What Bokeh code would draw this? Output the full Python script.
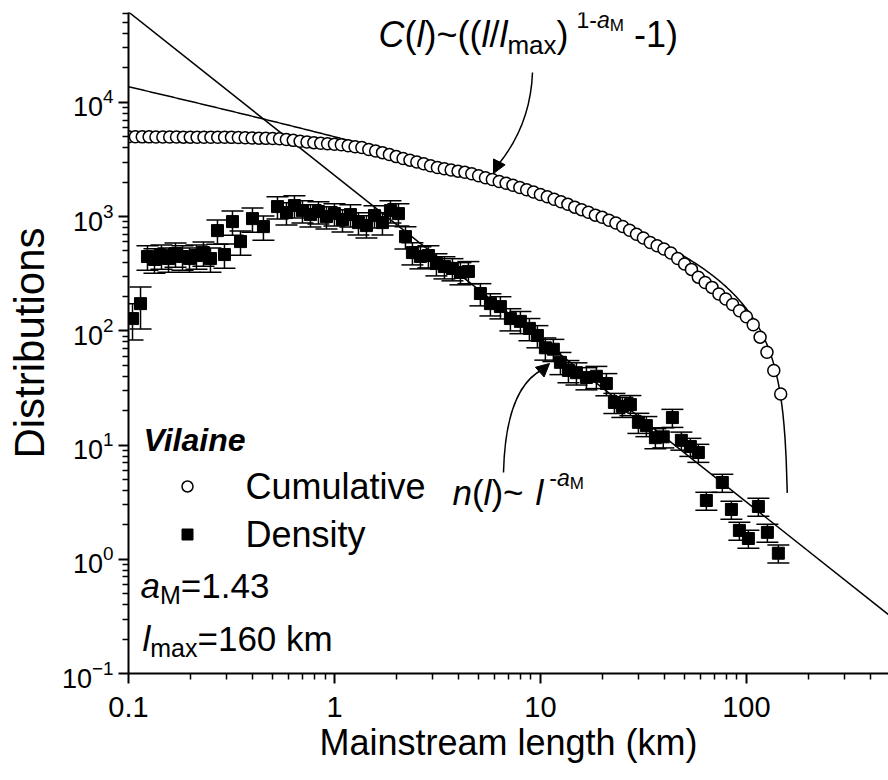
import math
import numpy as np
from bokeh.plotting import figure
from bokeh.models import (ColumnDataSource, Range1d, FixedTicker, LogTickFormatter,
                          NumeralTickFormatter, Whisker, TeeHead, Label, Arrow, NormalHead)
from bokeh.embed import file_html
from bokeh.resources import INLINE

FONT = "Liberation Sans"

# ---------------- data ----------------
a_M = 1.43          # exponent of the density fit
l_max = 160.0       # km
n_amp = 2300.0      # amplitude of n(l) ~ l^-a_M fit
c_amp = 756.0       # amplitude of C(l) fit
c_exp = 0.40        # exponent of the drawn C(l) curve
c_end = 158.0       # last length drawn for the C(l) curve

cum_len = [0.1, 0.108, 0.1166, 0.1259, 0.1359, 0.1468, 0.1585, 0.1711, 0.1848, 0.1995,
           0.2154, 0.2326, 0.2512, 0.2712, 0.2929, 0.3162, 0.3415, 0.3687, 0.3981, 0.4299,
           0.4642, 0.5012, 0.5412, 0.5843, 0.631, 0.6813, 0.7356, 0.7943, 0.8577, 0.9261,
           1.0, 1.08, 1.166, 1.259, 1.359, 1.468, 1.585, 1.711, 1.848, 1.995,
           2.154, 2.326, 2.512, 2.712, 2.929, 3.162, 3.415, 3.687, 3.981, 4.299,
           4.642, 5.012, 5.412, 5.843, 6.31, 6.813, 7.356, 7.943, 8.577, 9.261,
           10.0, 10.8, 11.66, 12.59, 13.59, 14.68, 15.85, 17.11, 18.48, 19.95,
           21.54, 23.26, 25.12, 27.12, 29.29, 31.62, 34.15, 36.87, 39.81, 42.99,
           46.42, 50.12, 54.12, 58.43, 63.1, 68.13, 73.56, 79.43, 85.77, 92.61,
           100.0, 108.0, 116.6, 125.9, 135.9, 146.8]
cum_val = [5000, 5000, 4990, 4990, 4980, 4980, 4970, 4970, 4960, 4960,
           4950, 4950, 4950, 4950, 4950, 4940, 4920, 4900, 4880, 4860,
           4840, 4830, 4810, 4730, 4650, 4560, 4500, 4440, 4380, 4340,
           4300, 4250, 4170, 4090, 4020, 3870, 3750, 3630, 3490, 3350,
           3220, 3120, 3010, 2900, 2790, 2690, 2620, 2560, 2500, 2440,
           2370, 2280, 2190, 2110, 2030, 1960, 1880, 1800, 1720, 1640,
           1560, 1490, 1420, 1350, 1280, 1210, 1150, 1090, 1030, 985,
           930, 880, 820, 760, 700, 650, 593, 555, 520, 480,
           430, 385, 345, 295, 265, 240, 210, 190, 170, 150,
           133, 113, 88, 65, 45, 28]

dens_len = [0.1046, 0.1144, 0.1236, 0.1337, 0.1446, 0.1564, 0.1691, 0.1829, 0.1978, 0.2138,
            0.2312, 0.25, 0.2704, 0.2924, 0.3198, 0.3498, 0.3999, 0.452, 0.5289, 0.5848,
            0.6394, 0.6993, 0.7647, 0.8362, 0.9145, 1.0, 1.094, 1.196, 1.308, 1.43,
            1.564, 1.71, 1.87, 2.045, 2.212, 2.391, 2.615, 2.859, 3.127, 3.42,
            3.74, 4.09, 4.472, 5.113, 5.718, 6.394, 7.15, 7.997, 8.843, 9.67,
            10.57, 11.56, 12.51, 13.68, 14.96, 16.73, 18.7, 20.91, 22.87, 25.0,
            27.35, 29.91, 32.7, 36.17, 39.5, 43.74, 48.36, 53.48, 58.48, 63.94,
            76.44, 84.6, 92.5, 102.3, 114.4, 126.5, 143.0]
dens_val = [128, 173, 447, 421, 456, 429, 474, 447, 429, 456,
            484, 429, 754, 465, 904, 604, 960, 817, 1223, 1084,
            1248, 1128, 1041, 1106, 1000, 1062, 941, 1041, 886, 834,
            1020, 886, 1128, 1062, 668, 484, 447, 456, 388, 365,
            351, 324, 331, 212, 173, 163, 128, 121, 105, 91,
            71, 69, 53, 45, 43, 39, 40, 34.6, 23.6, 21.8,
            22.6, 15.8, 14.8, 11.6, 11.8, 17.4, 11.0, 9.7, 8.6, 3.27,
            4.7, 2.73, 1.79, 1.52, 2.9, 1.72, 1.13]
dens_err = [0.35, 0.40, 0.24, 0.24, 0.24, 0.24, 0.24, 0.24, 0.24, 0.24,
            0.24, 0.24, 0.24, 0.24, 0.24, 0.24, 0.24, 0.24, 0.22, 0.22,
            0.22, 0.22, 0.22, 0.22, 0.22, 0.22, 0.22, 0.22, 0.22, 0.22,
            0.22, 0.22, 0.22, 0.22, 0.22, 0.22, 0.22, 0.22, 0.22, 0.22,
            0.22, 0.22, 0.22, 0.22, 0.22, 0.22, 0.22, 0.22, 0.22, 0.22,
            0.22, 0.22, 0.22, 0.22, 0.22, 0.22, 0.22, 0.22, 0.20, 0.20,
            0.20, 0.20, 0.20, 0.20, 0.20, 0.18, 0.18, 0.18, 0.18, 0.18,
            0.18, 0.18, 0.18, 0.18, 0.18, 0.18, 0.18]

x_ticks = [0.1, 1, 10, 100]
y_ticks = [0.1, 1, 10, 100, 1000, 10000]

X_MIN, X_MAX = 0.1, 490.0
Y_MIN, Y_MAX = 0.1, 61200.0

FW, FH = 760, 661        # plot frame size in px
FL, FT = 128.0, 12.0     # position of frame left / top inside the figure
FB = FT + FH

# ---------------- figure ----------------
p = figure(frame_width=FW, frame_height=FH, x_axis_type="log", y_axis_type="log",
           x_range=Range1d(X_MIN, X_MAX), y_range=Range1d(Y_MIN, Y_MAX),
           output_backend="svg", toolbar_location=None,
           min_border_left=int(FL), min_border_right=0, min_border_top=int(FT),
           min_border_bottom=95)
p.outline_line_color = None
p.grid.visible = False
p.background_fill_color = "white"

x_minor = [m * 10.0 ** e for e in (-1, 0, 1, 2) for m in range(2, 10) if m * 10.0 ** e <= X_MAX]
y_minor = [m * 10.0 ** e for e in range(-1, 5) for m in range(2, 10) if m * 10.0 ** e <= Y_MAX]
p.xaxis.ticker = FixedTicker(ticks=x_ticks, minor_ticks=x_minor)
p.yaxis.ticker = FixedTicker(ticks=y_ticks, minor_ticks=y_minor)
p.xaxis.formatter = NumeralTickFormatter(format="0.[0]")
p.yaxis.formatter = LogTickFormatter()

for ax in (p.xaxis[0], p.yaxis[0]):
    ax.axis_line_width = 2
    ax.axis_line_color = "black"
    ax.major_tick_line_width = 2
    ax.minor_tick_line_width = 1.5
    ax.major_tick_line_color = "black"
    ax.minor_tick_line_color = "black"
    ax.major_tick_out = 10
    ax.major_tick_in = 0
    ax.minor_tick_out = 6
    ax.minor_tick_in = 0
    ax.major_label_text_font = FONT
    ax.major_label_text_color = "black"
    ax.axis_label_text_font = FONT
    ax.axis_label_text_font_style = "normal"
    ax.axis_label_text_color = "black"

p.xaxis.major_label_text_font_size = "29px"
p.yaxis.major_label_text_font_size = "27px"
p.xaxis.major_label_standoff = 13
p.yaxis.major_label_standoff = 5
p.xaxis.axis_label = "Mainstream length (km)"
p.xaxis.axis_label_text_font_size = "36px"
p.xaxis.axis_label_standoff = 2
p.yaxis.axis_label = "Distributions"
p.yaxis.axis_label_text_font_size = "42px"
p.yaxis.axis_label_standoff = 6

# ---------------- fit curves ----------------
n_l = np.array([X_MIN, X_MAX])
n_v = n_amp * n_l ** (-a_M)
p.line(n_l, n_v, line_color="black", line_width=1.5)

c_l = np.logspace(-1, math.log10(c_end), 600)
c_v = c_amp * ((c_l / l_max) ** (-c_exp) - 1.0)
p.line(c_l, c_v, line_color="black", line_width=1.5)

# ---------------- data markers ----------------
p.scatter(cum_len, cum_val, marker="circle", size=12, fill_color="white",
          line_color="black", line_width=1.5)

dsrc = ColumnDataSource(dict(
    x=dens_len, y=dens_val,
    lower=[v * (1 - e) for v, e in zip(dens_val, dens_err)],
    upper=[v * (1 + e) for v, e in zip(dens_val, dens_err)]))
p.add_layout(Whisker(source=dsrc, base="x", lower="lower", upper="upper", dimension="height",
                     line_color="black", line_width=1.5,
                     lower_head=TeeHead(size=22, line_width=1.5, line_color="black"),
                     upper_head=TeeHead(size=22, line_width=1.5, line_color="black")))
p.scatter("x", "y", source=dsrc, marker="square", size=12, fill_color="black", line_color="black")

# ---------------- annotations ----------------


def data_x(px):
    lo, hi = math.log10(X_MIN), math.log10(X_MAX)
    return 10 ** (lo + (px - FL) / FW * (hi - lo))


def data_y(py):
    lo, hi = math.log10(Y_MIN), math.log10(Y_MAX)
    return 10 ** (lo + (FB - py) / FH * (hi - lo))


W = {'C': 722, '(': 333, ')': 333, 'l': 222, '~': 584, '/': 278, 'm': 833, 'a': 556, 'x': 500,
     '1': 556, '-': 333, 'M': 833, ' ': 278, 'n': 556, '=': 584, '.': 278, '4': 556, '3': 556,
     '6': 556, '0': 556, 'k': 500}

BASE_SHIFT = 13  # baseline correction (px) for rendered label text


def add_runs(px, py, runs):
    x0, y0 = data_x(px), data_y(py - BASE_SHIFT)
    off = 0.0
    for text, size, style, dy in runs:
        if text.strip() == "":
            off += size
            continue
        p.add_layout(Label(x=x0, y=y0, x_offset=off, y_offset=dy, text=text,
                           text_font=FONT, text_font_size=f"{size}px", text_font_style=style,
                           text_color="black", text_baseline="alphabetic", text_align="left"))
        off += sum(W.get(c, 556) for c in text) * size / 1000.0


# C(l) formula (" " runs are gaps of the given px width)
add_runs(378, 47, [("C", 36, "italic", 0), ("(", 36, "normal", 0), ("l", 36, "italic", 0),
                   (")~((", 36, "normal", 0), ("l", 36, "italic", 0), ("/", 36, "normal", 0),
                   ("l", 36, "italic", 0), ("max", 26, "normal", -10), (")", 36, "normal", 0),
                   (" ", 8, "normal", 0), ("1-", 23, "normal", 15), ("a", 23, "italic", 15),
                   ("M", 17, "normal", 9), (" ", 10, "normal", 0), ("-1)", 36, "normal", 0)])
# n(l) formula
add_runs(452, 505, [("n", 35, "italic", 0), ("(", 35, "normal", 0), ("l", 35, "italic", 0),
                    (")~", 35, "normal", 0), (" ", 12, "normal", 0), ("l", 35, "italic", 0),
                    (" ", 6, "normal", 0), ("-", 23, "normal", 15),
                    ("a", 23, "italic", 15), ("M", 17, "normal", 9)])
# legend-like block
add_runs(143, 452, [("Vilaine", 32, "bold italic", 0)])
add_runs(245, 499, [("Cumulative", 36, "normal", 0)])
add_runs(245, 547, [("Density", 36, "normal", 0)])
add_runs(140, 598, [("a", 35, "italic", 0), ("M", 25, "normal", -9), ("=1.43", 35, "normal", 0)])
add_runs(142, 651, [("l", 35, "italic", 0), ("max", 25, "normal", -9), ("=160 km", 35, "normal", 0)])

p.scatter([data_x(187)], [data_y(486)], marker="circle", size=11, fill_color="white",
          line_color="black", line_width=1.5)
p.scatter([data_x(187)], [data_y(534)], marker="square", size=11, fill_color="black",
          line_color="black")

# arrows (curved shafts + heads)
p.quadratic(x0=[data_x(532), data_x(503)], y0=[data_y(72), data_y(472)],
            x1=[data_x(497), data_x(542)], y1=[data_y(165), data_y(369)],
            cx=[data_x(530), data_x(505)], cy=[data_y(125), data_y(388)],
            line_color="black", line_width=1.5)
for (xs, ys, xe, ye) in [(498, 163, 493, 173), (540, 371, 549, 363)]:
    p.add_layout(Arrow(x_start=data_x(xs), y_start=data_y(ys), x_end=data_x(xe), y_end=data_y(ye),
                       line_color="black", line_width=1.5,
                       end=NormalHead(size=13, fill_color="black", line_color="black")))

open("out.html", "w").write(file_html(p, INLINE))
